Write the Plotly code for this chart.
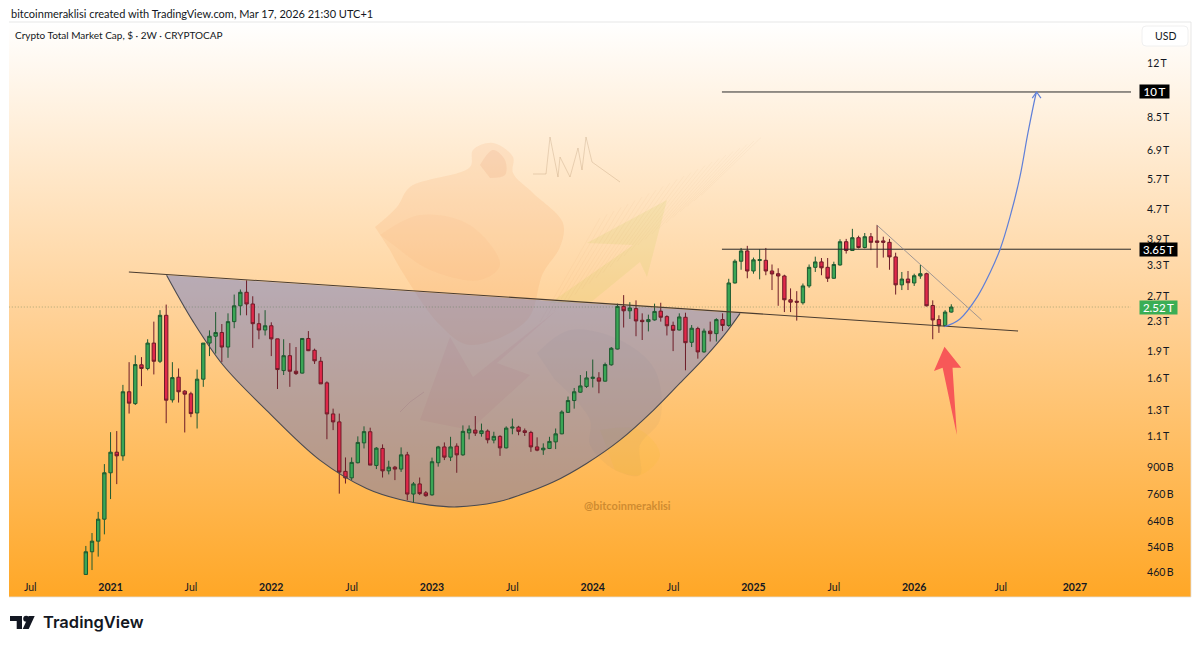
import math
import pandas as pd
import plotly.graph_objects as go

# ---------- chart data (values in trillions USD) ----------
first_bar = "2020-11-06"
opens = [.454,.525,.562,.647,.871,.994,.971,1.464,1.357,1.74,1.70,2.00,1.78,2.39,1.39,1.607,1.47,1.445,1.278,1.587,
2.00,2.09,2.14,1.95,2.295,2.54,2.77,2.57,2.265,2.175,2.235,2.055,1.677,1.845,1.67,1.65,2.06,1.91,1.78,1.55,
1.27,1.207,.879,.843,.929,1.055,1.133,.913,1.018,.882,.903,.892,.977,.76,.811,.766,.756,.929,1.028,.963,
1.033,.977,1.125,1.145,1.12,1.138,1.074,1.10,1.022,1.16,1.167,1.14,1.128,1.028,1.009,1.018,1.062,1.118,1.283,1.384,
1.46,1.515,1.595,1.60,1.567,1.74,1.925,2.53,2.46,2.495,2.315,2.295,2.32,2.455,2.37,2.24,2.175,2.36,2.01,2.195,
1.89,2.16,2.125,2.325,2.24,2.94,3.38,3.61,3.175,3.395,3.40,3.175,3.12,3.075,2.64,2.615,2.59,2.885,3.25,3.365,
3.25,3.03,3.30,3.83,3.62,3.93,3.69,3.955,3.85,3.85,3.815,3.475,2.905,3.015,2.94,3.075,3.12,2.545,2.325,2.235,2.44]
highs = [.545,.592,.678,.921,1.13,1.138,1.53,1.77,1.85,1.828,2.05,2.295,2.47,2.56,1.77,1.70,1.48,1.464,1.688,2.00,
2.17,2.44,2.26,2.42,2.73,2.82,2.99,2.70,2.42,2.47,2.285,2.055,2.05,2.00,1.95,2.06,2.16,1.93,1.83,1.565,
1.314,1.273,.961,.961,1.10,1.173,1.163,1.027,1.045,.941,.91,1.025,.996,.821,.845,.775,.96,1.035,1.058,1.097,
1.052,1.18,1.18,1.253,1.194,1.15,1.133,1.108,1.173,1.233,1.177,1.157,1.14,1.093,1.052,1.097,1.157,1.30,1.42,1.50,
1.63,1.67,1.80,1.66,1.765,1.95,2.575,2.72,2.60,2.63,2.42,2.40,2.575,2.59,2.39,2.295,2.42,2.43,2.245,2.22,
2.195,2.295,2.345,2.42,3.02,3.42,3.68,3.73,3.46,3.65,3.68,3.31,3.23,3.10,2.84,2.79,2.93,3.31,3.48,3.45,
3.45,3.37,3.89,3.90,4.16,3.98,4.05,4.05,4.26,3.955,3.90,3.57,3.155,3.175,3.12,3.30,3.14,2.63,2.39,2.47,2.565]
lows = [.44,.467,.509,.587,.736,.810,.941,1.273,1.345,1.518,1.68,1.636,1.76,1.197,1.366,1.366,1.128,1.244,1.157,1.511,
1.84,1.87,1.77,1.82,2.20,2.39,2.39,1.94,2.05,2.10,1.84,1.49,1.63,1.511,1.63,1.645,1.90,1.75,1.54,1.08,
1.145,.762,.813,.831,.925,1.018,.915,.892,.845,.862,.831,.876,.731,.722,.755,.747,.752,.906,.945,.939,
.871,.971,1.079,1.103,1.098,1.052,1.052,.971,1.018,1.115,1.108,1.103,.996,1.00,.977,1.014,1.014,1.115,1.278,1.314,
1.454,1.50,1.505,1.45,1.563,1.73,1.92,2.21,2.335,2.09,2.04,2.156,2.31,2.295,2.10,1.90,2.17,1.68,1.95,1.81,
1.88,2.02,2.02,2.16,2.22,2.93,3.20,3.03,3.12,3.01,3.09,2.81,2.54,2.44,2.44,2.31,2.56,2.85,3.155,3.09,
2.96,3.02,3.285,3.55,3.61,3.67,3.67,3.63,3.24,3.46,3.20,2.73,2.81,2.81,2.885,3.02,2.53,2.05,2.135,2.22,2.43]
closes = [.525,.562,.647,.871,.994,.971,1.464,1.361,1.743,1.70,2.00,1.78,2.39,1.387,1.603,1.464,1.442,1.273,1.587,2.00,
2.09,2.14,1.95,2.295,2.54,2.77,2.57,2.265,2.175,2.235,2.055,1.688,1.845,1.67,1.645,2.06,1.905,1.785,1.54,1.27,
1.207,.875,.843,.931,1.058,1.134,.915,1.02,.882,.903,.892,.977,.76,.811,.762,.752,.935,1.028,.963,1.028,
.977,1.136,1.152,1.123,1.14,1.076,1.10,1.022,1.16,1.167,1.136,1.128,1.028,1.007,1.02,1.065,1.118,1.286,1.384,1.464,
1.52,1.60,1.607,1.567,1.743,1.935,2.53,2.46,2.505,2.305,2.295,2.325,2.45,2.36,2.235,2.17,2.365,2.005,2.20,1.89,
2.16,2.125,2.325,2.24,2.94,3.38,3.61,3.175,3.41,3.415,3.175,3.115,3.075,2.64,2.60,2.60,2.885,3.25,3.365,3.24,
3.03,3.31,3.83,3.62,3.93,3.69,3.955,3.815,3.815,3.815,3.475,2.905,3.015,2.945,3.08,3.12,2.54,2.32,2.235,2.44,2.52]

last_price = 2.52
level_high = 10.0
level_mid = 3.65

price_ticks = [12, 8.5, 6.9, 5.7, 4.7, 3.9, 3.3, 2.7, 2.3, 1.9, 1.6, 1.3, 1.1, .9, .76, .64, .54, .46]
price_labels = ["12\u2009T","8.5\u2009T","6.9\u2009T","5.7\u2009T","4.7\u2009T","3.9\u2009T","3.3\u2009T","2.7\u2009T","2.3\u2009T","1.9\u2009T","1.6\u2009T",
                "1.3\u2009T","1.1\u2009T","900\u2009B","760\u2009B","640\u2009B","540\u2009B","460\u2009B"]
time_ticks = ["2020-07-03","2021-01-01","2021-07-02","2021-12-31","2022-07-01","2022-12-30","2023-06-30",
              "2023-12-29","2024-06-28","2024-12-27","2025-06-27","2025-12-26","2026-07-10","2026-12-25"]
time_labels = ["Jul","<b>2021</b>","Jul","<b>2022</b>","Jul","<b>2023</b>","Jul","<b>2024</b>","Jul",
               "<b>2025</b>","Jul","<b>2026</b>","Jul","<b>2027</b>"]

# drawings: positions in bar counts from the first bar, values in trillions
neck_bars = [6.96, 150.8]
neck_vals = [3.154, 2.161]
cup_bars = [13.06,17.36,22.22,29.24,37.86,45.42,50.8,55.66,60.03,66.5,70.23,75.6,81.0,86.4,91.8,96.1,100.44,103.67,105.83]
cup_vals = [3.09,2.295,1.735,1.30,.945,.788,.734,.708,.70,.722,.755,.821,.925,1.074,1.30,1.547,1.85,2.15,2.42]
trend_bars = [127.95, 144.9]
trend_vals = [4.263, 2.32]
path_bars = [138.9,141.4,144.2,146.3,147.9,149.5,151.1,152.4,153.7,153.8]
path_vals = [2.22,2.335,2.69,3.15,3.65,4.49,5.80,7.69,9.87,10.0]
head_bars = [153.1,153.8,154.5]
head_vals = [9.62,10.0,9.62]
red_bars = [138.9,141.6,140.2,140.9,138.6,137.2]
red_vals = [1.954,1.708,1.708,1.109,1.708,1.672]
level_bars = [102.9, 169.1]

start = pd.Timestamp(first_bar)
def at(bars):
    return [(start + pd.Timedelta(days=14 * b)).isoformat() for b in bars]
bar_dates = at(range(len(opens)))
x_range = ["2020-05-16", "2027-05-01"]
y_range = [math.log10(.4524), math.log10(15.66)]

W, H = 1200, 647
V = 644   # vertical extent of the working coordinates
fig = go.Figure()

# ---------- page-level backdrop, drawn on pixel axes ----------
fig.add_trace(go.Scatter(x=[9,1191,1191,9], y=[22,22,597,597], fill="toself", mode="lines",
    line=dict(width=1, color="rgba(225,225,225,0.8)"),
    fillgradient=dict(type="vertical", colorscale=[[0,"#ffa726"],[0.5,"#ffd299"],[1,"#ffffff"]]),
    hoverinfo="skip", showlegend=False))

def deco(xs, ys, color, line=None, smooth=False):
    fig.add_trace(go.Scatter(x=xs, y=ys, mode="lines", fill="toself" if color else None, fillcolor=color,
        line=dict(width=1 if line else 0, color=line or "rgba(0,0,0,0)", shape="spline" if smooth else "linear"),
        hoverinfo="skip", showlegend=False))

# watermark: bear, arrows, bull
deco([375,397,410,470,473,493,513,513,533,563,560,543,527,470,440,403,390],
     [227,207,187,167,150,143,157,173,193,223,247,273,320,345,325,273,250], "rgba(235,115,25,0.09)", smooth=True)
deco([480,493,505,505,490],[165,150,160,175,178], "rgba(200,80,20,0.08)", smooth=True)
deco([380,420,470,500,480,430,400],[235,215,225,265,280,270,250], "rgba(240,110,20,0.04)", smooth=True)
deco([667,587,633,550,590,640,647],[200,243,245,303,303,262,277], "rgba(190,205,70,0.14)")
deco([420,450,473,557,497,530,470],[420,337,377,310,363,375,430], "rgba(215,50,40,0.07)")
deco([537,570,620,655,660,640,640,615,590,590,555],[353,330,340,370,420,445,475,470,445,420,380], "rgba(120,120,100,0.06)", smooth=True)
deco([600,640,660,640,615],[430,430,455,475,470], "rgba(240,190,40,0.14)", smooth=True)
deco([533,546,550,558,560,570,578,582,586,592,620],[174,174,137,177,157,177,148,170,137,162,182], None, line="rgba(150,110,70,0.22)")
deco([424,410,400],[392,402,412], None, line="rgba(170,70,50,0.18)")
for k in range(24):
    deco([540+k*7, 600+k*7], [322-k*5.5, 218-k*5.5+k*2], None, line="rgba(190,130,70,0.05)")

# TradingView mark
deco([10,22,22,16.7,16.7,10],[616,616,629,629,621,621], "#131722")
deco([34.7,28.7,22.7,28.7],[616,629,629,616], "#131722")
fig.add_trace(go.Scatter(x=[26.2], y=[618.7], mode="markers", marker=dict(size=6, color="#131722"),
    hoverinfo="skip", showlegend=False))

# ---------- cup fill, beneath the candles ----------
fig.add_trace(go.Scatter(x=at(cup_bars), y=cup_vals, xaxis="x2", yaxis="y2", mode="lines", fill="toself",
    fillcolor="rgba(78,105,205,0.40)", line=dict(width=0, shape="spline", smoothing=1),
    hoverinfo="skip", showlegend=False))

# ---------- candles ----------
fig.add_trace(go.Candlestick(x=bar_dates, open=opens, high=highs, low=lows, close=closes, xaxis="x3", yaxis="y3",
    increasing=dict(fillcolor="#3aa655", line=dict(color="#1d5a30", width=1)),
    decreasing=dict(fillcolor="#e0284a", line=dict(color="#6e1c28", width=1)),
    whiskerwidth=0, hoverinfo="skip", showlegend=False))

def draw(bars, vals, color, width=1, smooth=False, dash=None, fill=None):
    fig.add_trace(go.Scatter(x=at(bars), y=vals, xaxis="x3", yaxis="y3", mode="lines",
        fill="toself" if fill else None, fillcolor=fill,
        line=dict(color=color, width=width, shape="spline" if smooth else "linear", dash=dash),
        hoverinfo="skip", showlegend=False))

draw(cup_bars, cup_vals, "#4a4a50", 1.1, smooth=True)
draw(neck_bars, neck_vals, "#4a3c30", 1.1)
draw(level_bars, [level_high, level_high], "#2a2a2a", 1)
draw(level_bars, [level_mid, level_mid], "#2a2a2a", 1)
draw(trend_bars, trend_vals, "rgba(130,130,140,0.75)", 1)
draw(path_bars, path_vals, "#5f7fd8", 1.2, smooth=True)
draw(head_bars, head_vals, "#5f7fd8", 1.2)
draw(red_bars, red_vals, "rgba(0,0,0,0)", 0, fill="#f75858")
draw([-12.46, 169.1], [last_price, last_price], "rgba(70,110,70,0.55)", 0.8, dash="1px 2px")

# ---------- text ----------
font = "Lato"
ink = "#131722"
def label(x, y, text, size=11, color=ink, family=font, weight=400):
    fig.add_annotation(x=x, y=y, xref="x", yref="y", text=text, showarrow=False, xanchor="left", yanchor="middle",
                       font=dict(family=family, size=size, color=color, weight=weight))

label(9, 13, "bitcoinmeraklisi created with TradingView.com, Mar 17, 2026 21:30 UTC+1", 11)
label(13, 35, "Crypto Total Market Cap, $ · 2W · CRYPTOCAP", 10)
label(41, 622, "TradingView", 16.5, family="Inter", weight=600)
fig.add_annotation(x=1165, y=36, xref="x", yref="y", text="USD", showarrow=False,
                   font=dict(family=font, size=10.5, color=ink))
fig.add_annotation(x=627, y=505, xref="x", yref="y", text="@bitcoinmeraklisi", showarrow=False,
                   font=dict(family=font, size=11, color="rgba(190,125,40,0.75)", weight=700))

def badge(val, text, bg, w):
    fig.add_annotation(x=1139/W, y=math.log10(val), xref="paper", yref="y3", text=text, showarrow=False,
        xanchor="left", yanchor="middle", width=w, height=13, align="center", bgcolor=bg, borderpad=0,
        font=dict(family=font, size=11.5, color="#ffffff", weight=500))
badge(level_high, "10\u2009T", "#000000", 29)
badge(level_mid, "3.65\u2009T", "#000000", 37)
badge(last_price, "2.52\u2009T", "#3aae55", 37)

fig.add_shape(type="path", xref="x", yref="y", layer="above", fillcolor="rgba(255,255,255,0.9)",
    line=dict(color="rgba(240,240,240,1)", width=1),
    path="M 1146 26 L 1184 26 Q 1188 26 1188 30 L 1188 42 Q 1188 46 1184 46 L 1146 46 Q 1142 46 1142 42 L 1142 30 Q 1142 26 1146 26 Z")

dom_x = [9/W, 1131/W]
dom_y = [(V-575)/V, (V-22)/V]
hidden = dict(visible=False, showgrid=False, zeroline=False)
fig.update_layout(
    width=W, height=H, margin=dict(l=0, r=0, t=0, b=0), paper_bgcolor="#ffffff", plot_bgcolor="rgba(0,0,0,0)",
    showlegend=False, font=dict(family=font, size=11, color=ink), boxgap=0.22,
    xaxis=dict(range=[0, W], domain=[0, 1], anchor="y", **hidden),
    yaxis=dict(range=[V, 0], domain=[0, 1], anchor="x", **hidden),
    xaxis2=dict(type="date", range=x_range, domain=dom_x, anchor="y2", tickmode="array", tickvals=time_ticks,
                ticktext=time_labels, showgrid=False, zeroline=False, showline=False, ticks="outside", ticklen=2,
                tickcolor="rgba(0,0,0,0)", tickfont=dict(family=font, size=10.5, color=ink), tickangle=0,
                rangeslider=dict(visible=False)),
    yaxis2=dict(type="log", range=y_range, domain=dom_y, anchor="x2", side="right", tickmode="array",
                tickvals=price_ticks, ticktext=price_labels, showgrid=False, zeroline=False, showline=False,
                ticks="outside", ticklen=13, tickcolor="rgba(0,0,0,0)", tickfont=dict(family=font, size=10.5, color=ink)),
    xaxis3=dict(type="date", range=x_range, domain=dom_x, anchor="y3", rangeslider=dict(visible=False), **hidden),
    yaxis3=dict(type="log", range=y_range, domain=dom_y, anchor="x3", **hidden),
)

fig.write_html("out.html", config=dict(displayModeBar=False, responsive=False),
               post_script=("document.documentElement.style.overflow='hidden';"
                            "document.body.style.margin='0';"
                            "document.body.style.overflow='hidden';"))
